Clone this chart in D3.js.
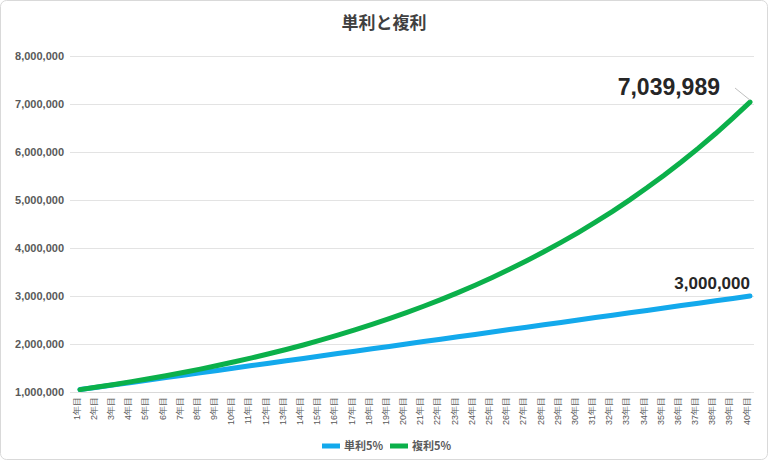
<!DOCTYPE html>
<html><head><meta charset="utf-8">
<script src="https://cdn.jsdelivr.net/npm/d3@7"></script>
<style>body{margin:0;background:#fff;font-family:"Noto Sans CJK JP","Noto Sans",sans-serif}</style>
</head><body><svg id="c" width="768" height="460"></svg>
<script>
// values
var years = d3.range(1, 41).map(function (n) { return n + "年目"; });
var simple = [1050000,1100000,1150000,1200000,1250000,1300000,1350000,1400000,1450000,1500000,
  1550000,1600000,1650000,1700000,1750000,1800000,1850000,1900000,1950000,2000000,
  2050000,2100000,2150000,2200000,2250000,2300000,2350000,2400000,2450000,2500000,
  2550000,2600000,2650000,2700000,2750000,2800000,2850000,2900000,2950000,3000000];
var compound = [1050000,1102500,1157625,1215506,1276282,1340096,1407100,1477455,1551328,1628895,
  1710339,1795856,1885649,1979932,2078928,2182875,2292018,2406619,2526950,2653298,
  2785963,2925261,3071524,3225100,3386355,3555673,3733456,3920129,4116136,4321942,
  4538039,4764941,5003189,5253348,5516015,5791816,6081407,6385477,6704751,7039989];
var yTicks = [1000000,2000000,3000000,4000000,5000000,6000000,7000000,8000000];
var seriesNames = ["単利5%", "複利5%"];
var colors = ["#13a9ec", "#0bb04a"];

var svg = d3.select("#c");
svg.append("rect").attr("x", 0.5).attr("y", 0.5).attr("width", 767).attr("height", 459)
  .attr("rx", 6).attr("fill", "#fff").attr("stroke", "#d9d9d9");

var x = d3.scalePoint().domain(years).range([80, 750]);
var y = d3.scaleLinear().domain([1000000, 8000000]).range([392, 56]);

svg.append("text").attr("x", 384).attr("y", 29).attr("text-anchor", "middle")
  .attr("font-size", 17).attr("font-weight", "bold").attr("fill", "#404040").text("単利と複利");

var ya = svg.append("g").attr("transform", "translate(70,0)")
  .call(d3.axisLeft(y).tickValues(yTicks).tickSize(-684).tickFormat(d3.format(",")));
ya.select(".domain").remove();
ya.selectAll("line").attr("stroke", "#e3e3e3");
ya.selectAll("text").attr("x", -6).attr("font-size", 11).attr("font-weight", "bold").attr("fill", "#595959")
  .attr("font-family", "Liberation Sans, sans-serif");

var xa = svg.append("g").attr("transform", "translate(0,392)").call(d3.axisBottom(x).tickSize(0));
xa.select(".domain").attr("stroke", "#d9d9d9");
xa.selectAll("text").attr("transform", "rotate(-90)").attr("text-anchor", "end")
  .attr("x", -5).attr("y", -4).attr("dy", "0.35em").attr("font-size", 9).attr("fill", "#595959");

var line = d3.line().x(function (d, i) { return x(years[i]); }).y(function (d) { return y(d); });
[simple, compound].forEach(function (s, k) {
  svg.append("path").datum(s).attr("d", line).attr("fill", "none")
    .attr("stroke", colors[k]).attr("stroke-width", 5).attr("stroke-linecap", "round");
});

var last = years[39];
svg.append("line").attr("x1", 735).attr("y1", 88).attr("x2", x(last)).attr("y2", y(compound[39]) - 2)
  .attr("stroke", "#bfbfbf");
svg.append("text").attr("x", 720).attr("y", 95).attr("text-anchor", "end").attr("font-size", 23)
  .attr("font-weight", "bold").attr("fill", "#262626").attr("font-family", "Liberation Sans, sans-serif")
  .text(d3.format(",")(compound[39]));
svg.append("text").attr("x", 750).attr("y", 289).attr("text-anchor", "end").attr("font-size", 17)
  .attr("font-weight", "bold").attr("fill", "#262626").attr("font-family", "Liberation Sans, sans-serif")
  .text(d3.format(",")(simple[39]));

var lg = svg.append("g").attr("transform", "translate(322,446)");
seriesNames.forEach(function (n, k) {
  var g = lg.append("g").attr("transform", "translate(" + (k * 68) + ",0)");
  g.append("line").attr("x1", 0).attr("x2", 18).attr("stroke", colors[k]).attr("stroke-width", 5);
  g.append("text").attr("x", 22).attr("dy", "0.35em").attr("font-size", 11).attr("font-weight", "bold")
    .attr("fill", "#595959").text(n);
});
</script></body></html>
